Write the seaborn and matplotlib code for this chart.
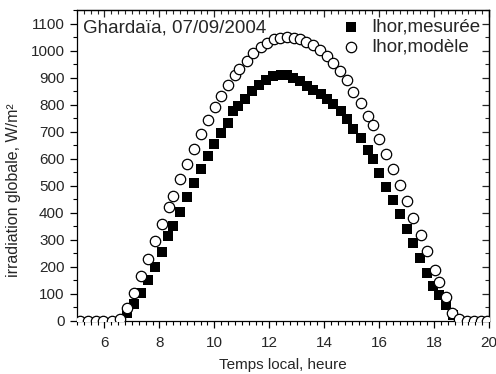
import matplotlib
matplotlib.use("Agg")
import matplotlib.pyplot as plt
import seaborn as sns
import pandas as pd
from matplotlib.ticker import MultipleLocator, NullFormatter

# Measured global irradiation (squares)
t_mes = [6.81, 7.09, 7.33, 7.60, 7.84, 8.08, 8.33, 8.50, 8.75, 9.02, 9.26, 9.50,
         9.76, 10.00, 10.24, 10.50, 10.69, 10.87, 11.12, 11.36, 11.64, 11.88, 12.15,
         12.42, 12.63, 12.87, 13.12, 13.36, 13.60, 13.87, 14.09, 14.33, 14.60, 14.84,
         15.06, 15.33, 15.61, 15.76, 16.00, 16.25, 16.51, 16.76, 17.00, 17.24, 17.49,
         17.75, 17.97, 18.19, 18.43, 18.70]
v_mes = [28, 62, 103, 152, 201, 254, 315, 352, 402, 458, 512, 562,
         611, 656, 697, 732, 775, 794, 822, 849, 874, 893, 905,
         911, 911, 899, 886, 870, 856, 840, 820, 802, 776, 748,
         710, 677, 633, 599, 549, 497, 447, 396, 340, 288, 232,
         179, 130, 96, 59, 22]

# Model global irradiation (circles)
t_mod = [5.11, 5.41, 5.69, 5.96, 6.26, 6.57, 6.83, 7.09, 7.33, 7.58, 7.84, 8.08,
         8.34, 8.51, 8.75, 9.02, 9.26, 9.50, 9.76, 10.02, 10.25, 10.50, 10.75, 10.91,
         11.18, 11.42, 11.69, 11.91, 12.17, 12.39, 12.66, 12.91, 13.12, 13.34, 13.60,
         13.85, 14.09, 14.33, 14.58, 14.82, 15.06, 15.33, 15.61, 15.76, 16.00, 16.25,
         16.51, 16.77, 17.01, 17.24, 17.51, 17.75, 18.03, 18.19, 18.43, 18.67, 18.92,
         19.21, 19.45, 19.70, 19.94]
v_mod = [0, 0, 0, 0, 0, 6, 47, 105, 167, 228, 294, 359,
         421, 463, 525, 581, 637, 691, 742, 790, 832, 874, 911, 932,
         963, 991, 1012, 1028, 1041, 1047, 1051, 1047, 1041, 1031, 1019,
         1001, 981, 955, 923, 890, 846, 806, 759, 726, 673, 619,
         562, 502, 442, 380, 318, 257, 189, 146, 88, 31, 7,
         0, 0, 0, 0]

labels = ["Ihor,mesurée", "Ihor,modèle"]
title_text = "Ghardaïa, 07/09/2004"
xlabel = "Temps local, heure"
ylabel = "irradiation globale, W/m²"

sns.set_style("ticks")
plt.rcParams['font.family'] = ['Liberation Sans', 'DejaVu Sans']

fig = plt.figure(figsize=(4.96, 3.74), dpi=100)
ax = fig.add_axes([77/496, 53/374, 412/496, 311/374])

df_mes = pd.DataFrame({"t": t_mes, "v": v_mes})
df_mod = pd.DataFrame({"t": t_mod, "v": v_mod})

sns.scatterplot(data=df_mes, x="t", y="v", marker="s", color="black",
                edgecolor="black", linewidth=0, s=50, ax=ax, label=labels[0], zorder=3)
sns.scatterplot(data=df_mod, x="t", y="v", marker="o", color="white",
                edgecolor="black", linewidth=0.9, s=56, ax=ax, label=labels[1], zorder=4)

ax.set_xlim(5, 20)
ax.set_ylim(0, 1150)
ax.xaxis.set_major_locator(MultipleLocator(2))
ax.xaxis.set_minor_locator(MultipleLocator(0.25))
ax.yaxis.set_major_locator(MultipleLocator(100))
ax.yaxis.set_minor_locator(MultipleLocator(50))

for sp in ax.spines.values():
    sp.set_visible(True)
    sp.set_linewidth(0.9)
    sp.set_color("black")

ax.tick_params(axis="both", which="major", direction="out", length=5, width=0.9,
               labelsize=11, color="black")
ax.tick_params(axis="x", which="major", pad=6)
ax.tick_params(axis="y", which="major", pad=4)
ax.tick_params(axis="both", which="minor", direction="out", length=3, width=0.8,
               color="black")

secx = ax.secondary_xaxis("top")
secx.xaxis.set_major_locator(MultipleLocator(2))
secx.xaxis.set_minor_locator(MultipleLocator(0.25))
secx.xaxis.set_major_formatter(NullFormatter())
secx.tick_params(axis="x", which="major", direction="in", length=5, width=0.9)
secx.tick_params(axis="x", which="minor", direction="in", length=3, width=0.8)
secx.spines["top"].set_linewidth(0.9)

secy = ax.secondary_yaxis("right")
secy.yaxis.set_major_locator(MultipleLocator(100))
secy.yaxis.set_minor_locator(MultipleLocator(50))
secy.yaxis.set_major_formatter(NullFormatter())
secy.tick_params(axis="y", which="major", direction="in", length=5, width=0.9)
secy.tick_params(axis="y", which="minor", direction="in", length=3, width=0.8)
secy.spines["right"].set_linewidth(0.9)

ax.set_xlabel(xlabel, fontsize=11)
ax.set_ylabel(ylabel, fontsize=11.5)
ax.xaxis.set_label_coords(0.5, -0.12)
ax.yaxis.set_label_coords(-0.135, 0.42)

ax.text(0.014, 0.927, title_text, transform=ax.transAxes, fontsize=13.5,
        ha="left", va="baseline")

ax.legend(loc="upper right", frameon=False, fontsize=13.5, handletextpad=0.5,
          borderaxespad=0.15, labelspacing=0.15, borderpad=0.3, handlelength=1.2)

fig.savefig("out.png", dpi=100)
